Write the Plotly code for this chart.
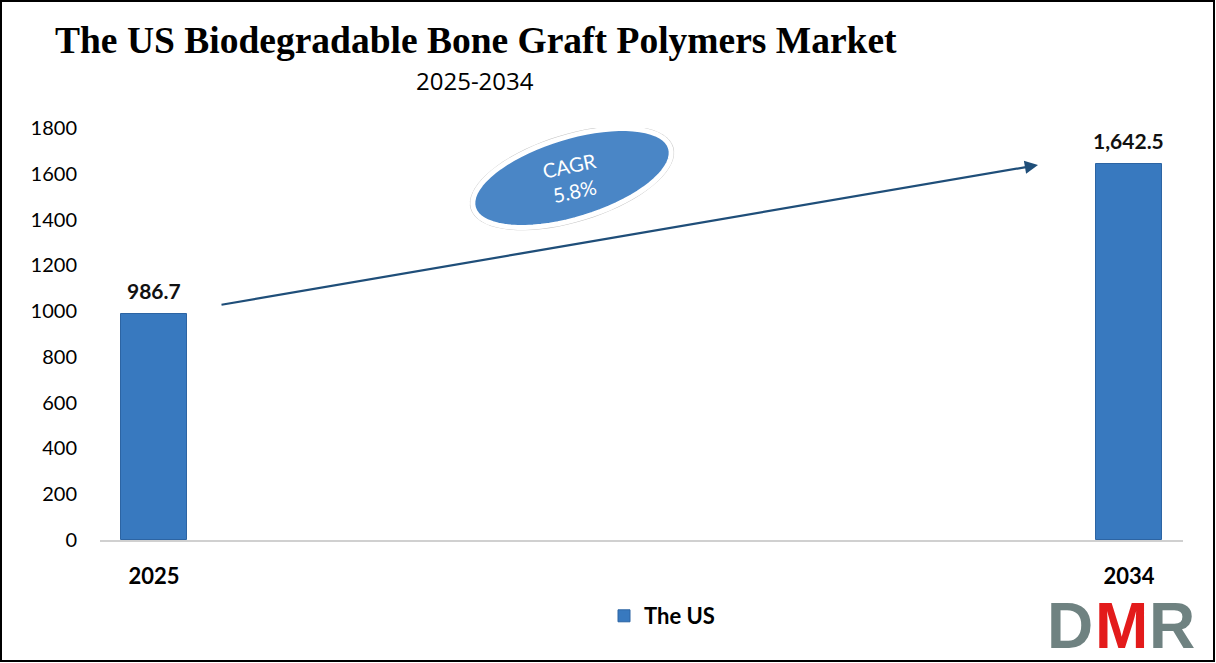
import math
import plotly.graph_objects as go

# ---- data ----
categories = ["2025", "2034"]
values = [986.7, 1642.5]
value_labels = ["986.7", "1,642.5"]
series_name = "The US"
y_ticks = [0, 200, 400, 600, 800, 1000, 1200, 1400, 1600, 1800]
cagr_text = "CAGR<br>5.8%"
title_text = "The US Biodegradable Bone Graft Polymers Market"
subtitle_text = "2025-2034"

W, H = 1216, 663
L, R, T, B = 100, 33, 128, 123
PW, PH = W - L - R, H - T - B
x_idx = list(range(len(categories)))
XR = [-0.0554, 1.0554]
YR = [0, 1800]


def px_to_data(px, py):
    x = XR[0] + (px - L) / PW * (XR[1] - XR[0])
    y = YR[0] + (T + PH - py) / PH * (YR[1] - YR[0])
    return x, y


def px_to_paper(px, py):
    return (px - L) / PW, (T + PH - py) / PH


def ellipse_path(cx, cy, a, b, ang_deg, n=72):
    ang = math.radians(ang_deg)
    pts = []
    for i in range(n):
        t = 2 * math.pi * i / n
        ex, ey = a * math.cos(t), b * math.sin(t)
        px = cx + ex * math.cos(ang) - ey * math.sin(ang)
        py = cy - (ex * math.sin(ang) + ey * math.cos(ang))
        pts.append(px_to_data(px, py))
    return "M " + " L ".join(f"{x:.5f},{y:.3f}" for x, y in pts) + " Z"


fig = go.Figure()
fig.add_trace(go.Bar(
    x=x_idx, y=values, width=0.0677, name=series_name,
    marker=dict(color="#3879BF", line=dict(color="#2C64A3", width=1)),
    showlegend=True, hoverinfo="y",
))

# value labels
for xi, v, lab in zip(x_idx, values, value_labels):
    fig.add_annotation(x=xi, y=v, xref="x", yref="y", text=f"<b>{lab}</b>", showarrow=False,
                       xanchor="center", yanchor="middle", yshift=24,
                       font=dict(family="Lato", size=21, color="#111111"))

# ellipse (CAGR badge)
ecx, ecy = 572, 178
fig.add_shape(type="path", path=ellipse_path(ecx, ecy, 106, 44, 17),
              xref="x", yref="y", fillcolor="#C4C4C4", line=dict(width=0), layer="above")
fig.add_shape(type="path", path=ellipse_path(ecx, ecy, 103, 41, 17),
              xref="x", yref="y", fillcolor="#4A86C6", line=dict(color="white", width=5), layer="above")
cx_d, cy_d = px_to_data(ecx, ecy)
fig.add_annotation(x=cx_d, y=cy_d, xref="x", yref="y", text=cagr_text, showarrow=False,
                   xanchor="center", yanchor="middle",
                   textangle=-12, font=dict(family="Lato", size=20, color="white"))

# arrow
ax0, ay0 = px_to_data(220, 305)
ax1, ay1 = px_to_data(1038, 165)
fig.add_annotation(x=ax1, y=ay1, ax=ax0, ay=ay0, xref="x", yref="y", axref="x", ayref="y",
                   showarrow=True, arrowhead=2, arrowsize=1.2, arrowwidth=2.2,
                   arrowcolor="#1F4E79", text="")

# title
tx, ty = px_to_paper(476, 40)
fig.add_annotation(x=tx, y=ty, xref="paper", yref="paper", text=f"<b>{title_text}</b>",
                   showarrow=False, xanchor="center", yanchor="middle",
                   font=dict(family="Liberation Serif", size=37.5, color="black"))
sx, sy = px_to_paper(475, 80)
fig.add_annotation(x=sx, y=sy, xref="paper", yref="paper", text=subtitle_text,
                   showarrow=False, xanchor="center", yanchor="middle",
                   font=dict(family="Open Sans", size=24, color="black"))

# logo
for letter, col, lx in [("D", "#6F8281", 1070), ("M", "#E31B1B", 1121), ("R", "#6F8281", 1172)]:
    px_, py_ = px_to_paper(lx, 626)
    fig.add_annotation(x=px_, y=py_, xref="paper", yref="paper", text=f"<b>{letter}</b>",
                       showarrow=False, xanchor="center", yanchor="middle",
                       font=dict(family="Liberation Sans", size=64, color=col))

# border
bx0, by0 = px_to_paper(1, 1)
bx1, by1 = px_to_paper(1214, 661)
fig.add_shape(type="rect", xref="paper", yref="paper", x0=bx0, y0=by1, x1=bx1, y1=by0,
              line=dict(color="black", width=2), fillcolor="rgba(0,0,0,0)")

lx_, ly_ = px_to_paper(662, 616)
fig.update_layout(
    width=W, height=H, margin=dict(l=L, r=R, t=T, b=B),
    paper_bgcolor="white", plot_bgcolor="white",
    showlegend=True,
    legend=dict(orientation="h", x=lx_, y=ly_, xanchor="center", yanchor="middle",
                font=dict(family="Lato", size=22, color="black", weight="bold"),
                itemwidth=30),
    xaxis=dict(range=XR, tickvals=x_idx, ticktext=[f"<b>{c}</b>" for c in categories],
               tickfont=dict(family="Lato", size=22, color="black"),
               showgrid=False, zeroline=False, showline=True, linecolor="#D0D0D0", linewidth=1.5,
               ticks="", ticklabelstandoff=16),
    yaxis=dict(range=YR, tickvals=y_ticks, tickfont=dict(family="Lato", size=20, color="black"),
               showgrid=False, zeroline=False, showline=False, ticks="", ticklabelstandoff=22),
    bargap=0,
)
fig.write_html("out.html", config={"displayModeBar": False},
               post_script="document.body.style.margin='0';document.body.style.overflow='hidden';")
